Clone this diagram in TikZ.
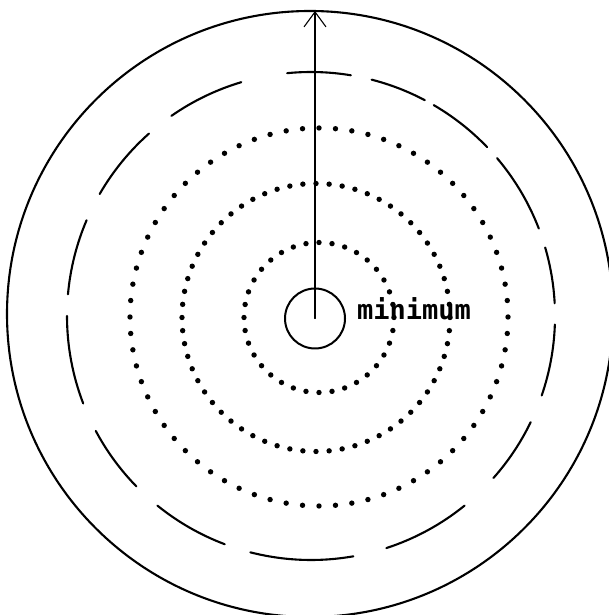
\documentclass[tikz,border=0pt]{standalone}
\usepackage{fontspec}
\newfontfamily\labelmono{DejaVu Sans Mono}
\usetikzlibrary{arrows.meta}
\tikzset{
  every picture/.append style={line cap=round,line join=round},
  pot rim/.style={line width=2.1pt},
  pot dash/.style={line width=2.1pt},
  pot dot/.style={fill=black},
  pot min/.style={circle,draw,line width=2pt,minimum size=60pt,inner sep=0pt},
  pot label/.style={font=\labelmono\bfseries\fontsize{27}{27}\selectfont,inner sep=0pt,anchor=base west},
  pot arrow/.style={line width=1.1pt,-{Straight Barb[length=15pt,width=22pt]}}
}

\begin{document}
\begin{tikzpicture}[x=1pt,y=1pt]
\useasboundingbox (0,0) rectangle (608,615);
% outer boundary
\coordinate (rim) at (310,301);
\draw[pot rim] (rim) circle (303);
% long dashes
\coordinate (dashc) at (311,299);
\foreach \a/\b in {80.6/95.6,62.2/75.6,43.8/59.8,21/40.3,3/16.3,-19/-2,
  -41.6/-25.8,-72/-51,-104.4/-80,-129/-110.7,-151.9/-135.7,-180/-159,
  156.9/174.9,131.6/150,106.6/124.9}
  \draw[pot dash] (dashc) ++(\a:244) arc[start angle=\a,end angle=\b,radius=244];
% dotted levels
\foreach \r/\n/\cx/\cy in {189/72/319/298,134/64/316/297.5,75/36/319/297.5}
  \foreach \i in {1,...,\n}
    \fill[pot dot] (\cx,\cy) ++({\i*(360/\n)}:\r) circle (2.7);
% minimum
\node[pot min] (min) at (315,296.5) {};
\node[pot label] (minlabel) at (357,295) {minimum};
\coordinate (top) at (315,604);
\draw[pot arrow] (min.center) -- (top);
\end{tikzpicture}
\end{document}
